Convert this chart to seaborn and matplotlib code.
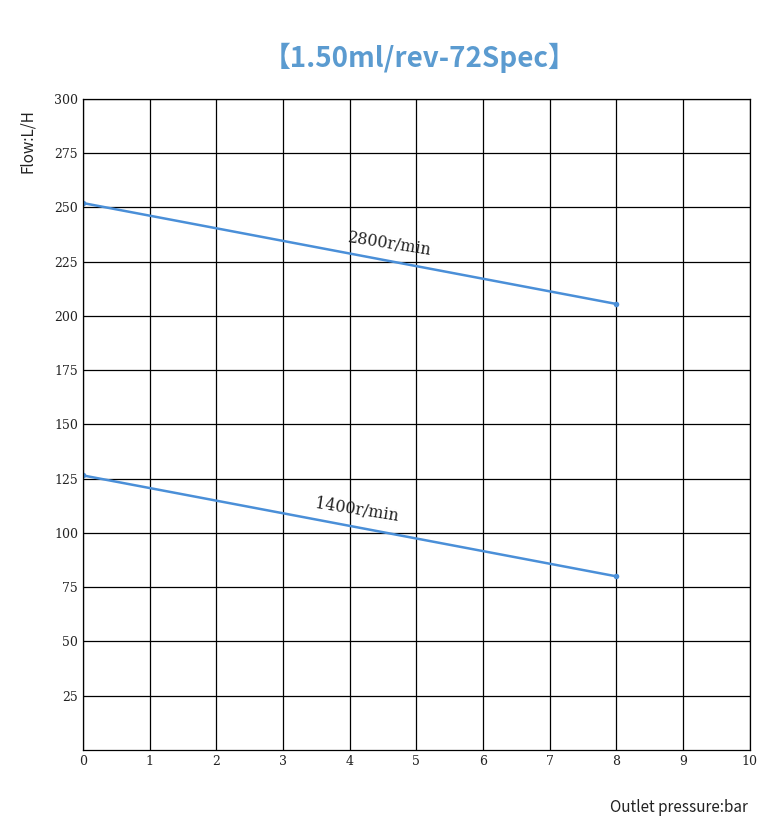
import pandas as pd
import seaborn as sns
import matplotlib.pyplot as plt

pressure = [0, 8]
flow_2800 = [252, 205.5]
flow_1400 = [126.5, 80]
x_ticks = list(range(0, 11))
y_ticks = list(range(25, 301, 25))

df = pd.DataFrame({
    "pressure": pressure * 2,
    "flow": flow_2800 + flow_1400,
    "speed": ["2800r/min"] * 2 + ["1400r/min"] * 2,
})

sns.set_theme(style="white")
plt.rcParams["font.family"] = ["Noto Sans CJK SC", "DejaVu Sans"]

fig = plt.figure(figsize=(7.69, 8.31), dpi=100)
ax = fig.add_axes([0.108, 0.0975, 0.867, 0.7835])
line_color = "#4a8fd8"
sns.lineplot(data=df, x="pressure", y="flow", units="speed", estimator=None,
             color=line_color, linewidth=1.8, marker="o", markersize=4,
             markeredgewidth=0, ax=ax, legend=False)

ax.set_xlim(0, 10)
ax.set_ylim(0, 300)
ax.set_xticks(x_ticks)
ax.set_yticks(y_ticks)
ax.grid(True, color="black", linewidth=0.9)
for s in ax.spines.values():
    s.set_color("black")
    s.set_linewidth(0.9)
ax.tick_params(length=0, labelsize=9, colors="#222222")
for lab in ax.get_xticklabels() + ax.get_yticklabels():
    lab.set_family("DejaVu Serif")
ax.set_xlabel("")
ax.set_ylabel("")

ax.text(4.6, 233, "2800r/min", rotation=-9, ha="center", va="center",
        family="DejaVu Serif", fontsize=11.5, color="#222222")
ax.text(4.1, 110.5, "1400r/min", rotation=-9, ha="center", va="center",
        family="DejaVu Serif", fontsize=11.5, color="#222222")

fig.text(0.545, 0.93, "【1.50ml/rev-72Spec】", ha="center", va="center",
         fontsize=20, fontweight="bold", color="#5b9bd0")
fig.text(0.036, 0.83, "Flow:L/H", rotation=90, ha="center", va="center",
         fontsize=11, color="#222222")
fig.text(0.973, 0.028, "Outlet pressure:bar", ha="right", va="center",
         fontsize=11, color="#222222")

fig.savefig("out.png", dpi=100)
